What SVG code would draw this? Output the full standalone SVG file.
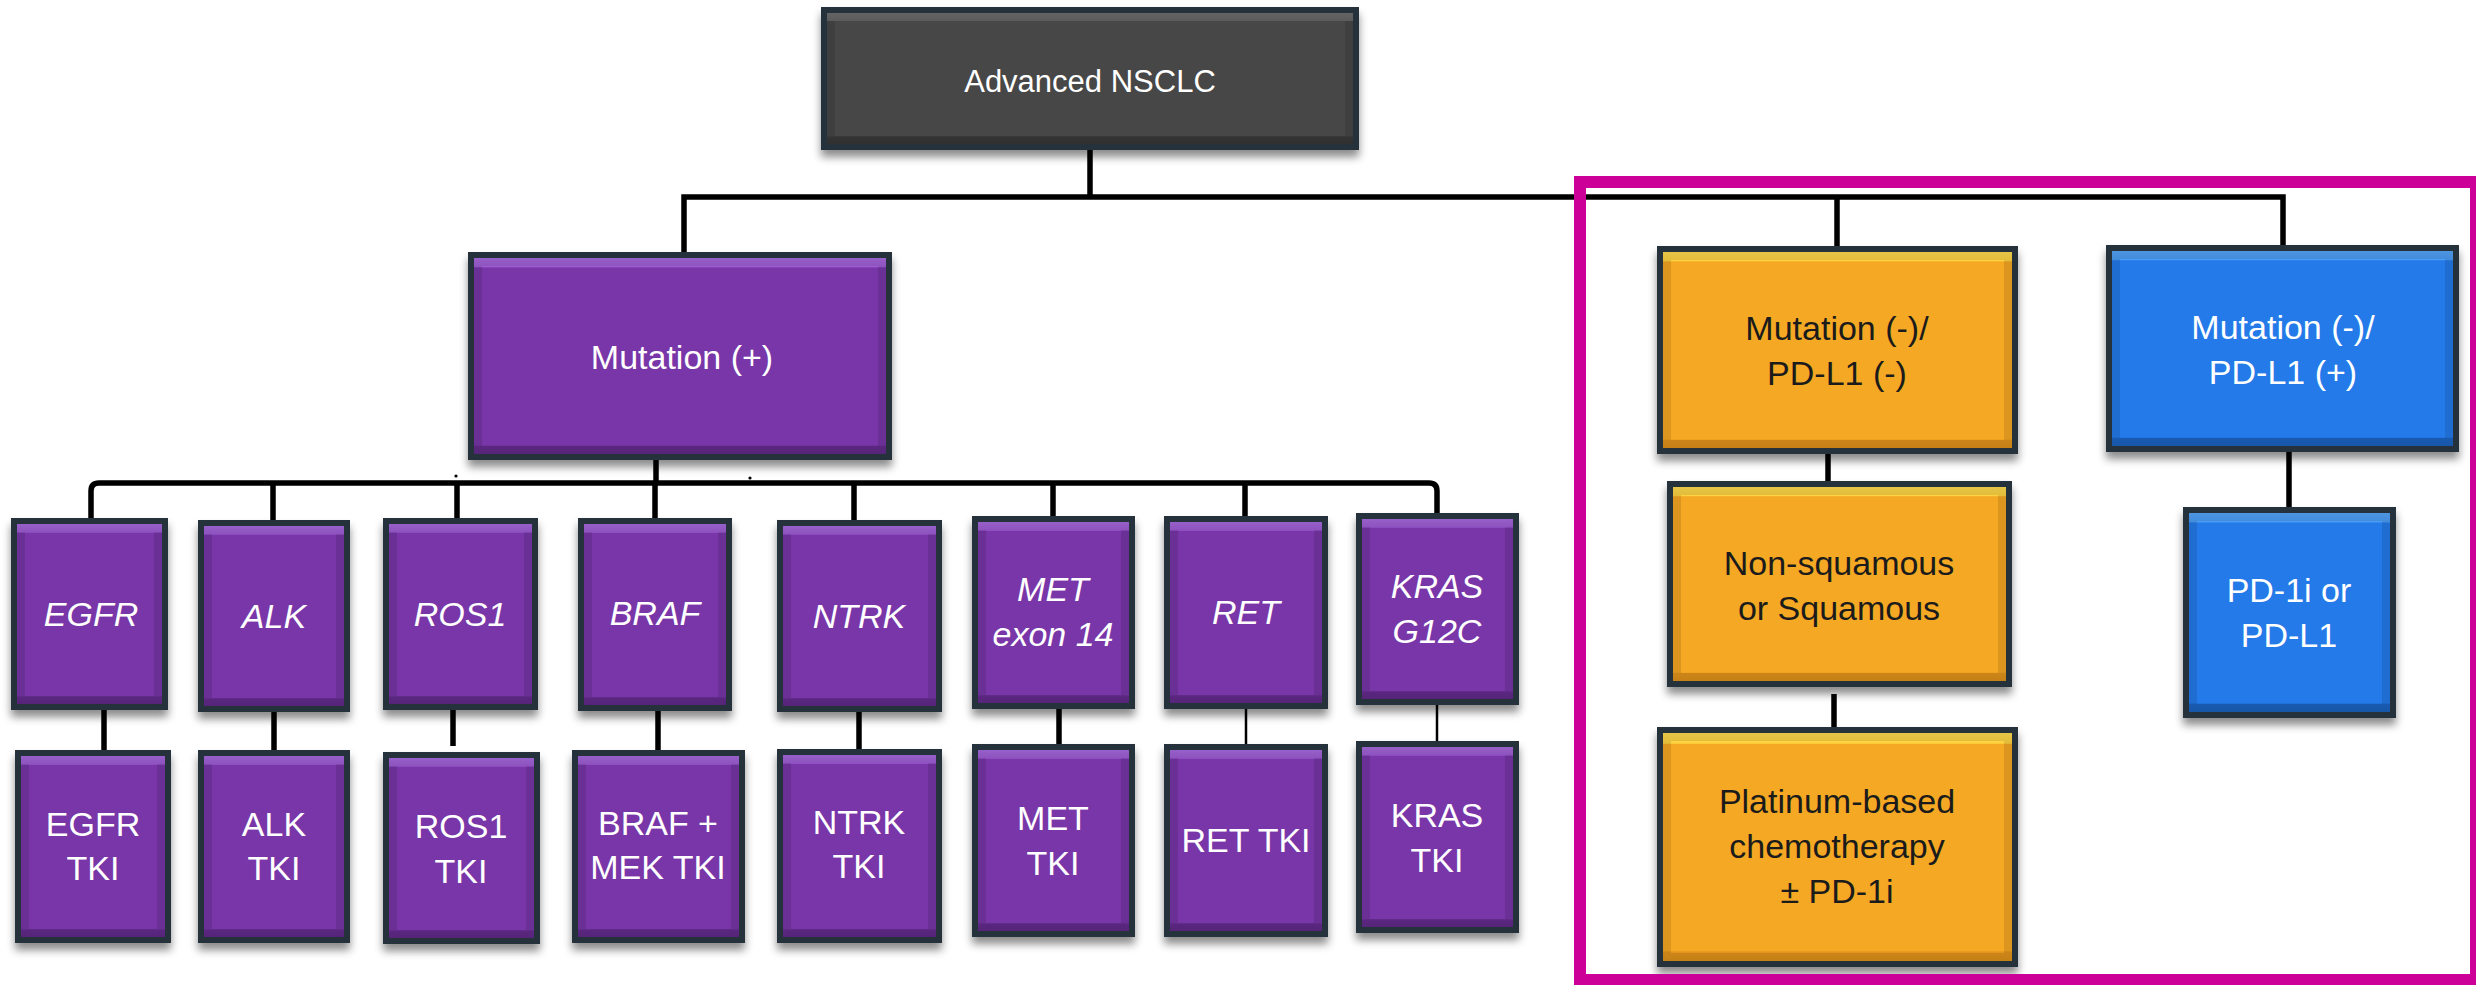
<svg xmlns="http://www.w3.org/2000/svg" width="2476" height="985" viewBox="0 0 2476 985">
  <defs>
    <filter id="shadow" x="-10%" y="-10%" width="120%" height="125%">
      <feDropShadow dx="0" dy="7" stdDeviation="4" flood-color="#000" flood-opacity="0.45"/>
    </filter>
    <!-- bevelled faces: light top band, dark bottom band -->
    <linearGradient id="g-purple" x1="0" y1="0" x2="0" y2="1">
      <stop offset="0" stop-color="#a86be0"/>
      <stop offset="0.045" stop-color="#9e5cd4"/>
      <stop offset="0.05" stop-color="#7836a8"/>
      <stop offset="0.955" stop-color="#7836a8"/>
      <stop offset="0.96" stop-color="#662c90"/>
      <stop offset="1" stop-color="#5f2986"/>
    </linearGradient>
    <linearGradient id="g-orange" x1="0" y1="0" x2="0" y2="1">
      <stop offset="0" stop-color="#ffdc50"/>
      <stop offset="0.045" stop-color="#fdd240"/>
      <stop offset="0.05" stop-color="#f5a823"/>
      <stop offset="0.955" stop-color="#f5a823"/>
      <stop offset="0.96" stop-color="#e3951c"/>
      <stop offset="1" stop-color="#dc8f19"/>
    </linearGradient>
    <linearGradient id="g-blue" x1="0" y1="0" x2="0" y2="1">
      <stop offset="0" stop-color="#56a6fa"/>
      <stop offset="0.045" stop-color="#4a9cf5"/>
      <stop offset="0.05" stop-color="#237ae8"/>
      <stop offset="0.955" stop-color="#237ae8"/>
      <stop offset="0.96" stop-color="#1c66c6"/>
      <stop offset="1" stop-color="#1a60bb"/>
    </linearGradient>
    <linearGradient id="g-grey" x1="0" y1="0" x2="0" y2="1">
      <stop offset="0" stop-color="#707070"/>
      <stop offset="0.06" stop-color="#666"/>
      <stop offset="0.065" stop-color="#474747"/>
      <stop offset="0.94" stop-color="#474747"/>
      <stop offset="0.945" stop-color="#3a3a3a"/>
      <stop offset="1" stop-color="#363636"/>
    </linearGradient>
  </defs>
  <style>
    .frame { fill: #28303b; filter: url(#shadow); }
    .rim { fill: none; stroke: #000; stroke-opacity: 0.1; stroke-width: 8; }
    .purple .face { fill: url(#g-purple); }
    .orange .face { fill: url(#g-orange); }
    .blue .face { fill: url(#g-blue); }
    .grey .face { fill: url(#g-grey); }
    text { font-family: "Liberation Sans", Arial, sans-serif; font-size: 34px; text-anchor: middle; fill: #fff; }
    .grey text { font-size: 31px; }
    .orange text { fill: #1b1b1b; }
    .it { font-style: italic; }
    .c { fill: none; stroke: #000; stroke-width: 5.5; }
    .c.thin { stroke-width: 2.5; }
    .dot { fill: #000; }
    .frame-box { fill: none; stroke: #cc0099; stroke-width: 12; }
  </style>

  <rect width="2476" height="985" fill="#fff"/>

  <!-- connectors -->
  <g id="connectors">
    <path class="c" d="M1090,150 V197"/>
    <path class="c" d="M684,252 V197 H2283 V245"/>
    <path class="c" d="M1837,197 V246"/>
    <path class="c" d="M656,460 V483"/>
    <path class="c" d="M91,518 V491 Q91,483 99,483 H1429 Q1437,483 1437,491 V513"/>
    <path class="c" d="M273,483 V520"/>
    <path class="c" d="M457,483 V518"/>
    <path class="c" d="M655,483 V518"/>
    <path class="c" d="M854,483 V520"/>
    <path class="c" d="M1053,483 V516"/>
    <path class="c" d="M1245,483 V516"/>
    <path class="c" d="M104,710 V750"/>
    <path class="c" d="M274,712 V750"/>
    <path class="c" d="M453,697 V746"/>
    <path class="c" d="M658,711 V750"/>
    <path class="c" d="M859,712 V749"/>
    <path class="c" d="M1059,709 V744"/>
    <path class="c thin" d="M1246,709 V744"/>
    <path class="c thin" d="M1437,705 V741"/>
    <path class="c" d="M1828,454 V481"/>
    <path class="c" d="M1834,694 V727"/>
    <path class="c" d="M2289,452 V507"/>
    <circle class="dot" cx="456" cy="476" r="1.6"/>
    <circle class="dot" cx="750" cy="478" r="1.6"/>
  </g>

  <!-- root -->
  <g id="node-advanced-nsclc" class="grey">
    <rect class="frame" x="821" y="7" width="538" height="143"/>
    <rect class="face" x="827" y="13" width="526" height="131"/>
    <rect class="rim" x="831" y="17" width="518" height="123"/>
    <text x="1090" y="92">Advanced NSCLC</text>
  </g>

  <g id="node-mutation-pos" class="purple">
    <rect class="frame" x="468" y="252" width="424" height="208"/>
    <rect class="face" x="474" y="258" width="412" height="196"/>
    <rect class="rim" x="478" y="262" width="404" height="188"/>
    <text x="682" y="369">Mutation (+)</text>
  </g>

  <!-- driver genes -->
  <g id="node-egfr" class="purple">
    <rect class="frame" x="11" y="518" width="157" height="192"/>
    <rect class="face" x="17" y="524" width="145" height="180"/>
    <rect class="rim" x="21" y="528" width="137" height="172"/>
    <text class="it" x="91" y="626">EGFR</text>
  </g>
  <g id="node-alk" class="purple">
    <rect class="frame" x="198" y="520" width="152" height="192"/>
    <rect class="face" x="204" y="526" width="140" height="180"/>
    <rect class="rim" x="208" y="530" width="132" height="172"/>
    <text class="it" x="274" y="628">ALK</text>
  </g>
  <g id="node-ros1" class="purple">
    <rect class="frame" x="383" y="518" width="155" height="192"/>
    <rect class="face" x="389" y="524" width="143" height="180"/>
    <rect class="rim" x="393" y="528" width="135" height="172"/>
    <text class="it" x="460" y="626">ROS1</text>
  </g>
  <g id="node-braf" class="purple">
    <rect class="frame" x="578" y="518" width="154" height="193"/>
    <rect class="face" x="584" y="524" width="142" height="181"/>
    <rect class="rim" x="588" y="528" width="134" height="173"/>
    <text class="it" x="655" y="625">BRAF</text>
  </g>
  <g id="node-ntrk" class="purple">
    <rect class="frame" x="777" y="520" width="165" height="192"/>
    <rect class="face" x="783" y="526" width="153" height="180"/>
    <rect class="rim" x="787" y="530" width="145" height="172"/>
    <text class="it" x="859" y="628">NTRK</text>
  </g>
  <g id="node-met" class="purple">
    <rect class="frame" x="972" y="516" width="163" height="193"/>
    <rect class="face" x="978" y="522" width="151" height="181"/>
    <rect class="rim" x="982" y="526" width="143" height="173"/>
    <text class="it" x="1053"><tspan x="1053" y="601">MET</tspan><tspan x="1053" y="646">exon 14</tspan></text>
  </g>
  <g id="node-ret" class="purple">
    <rect class="frame" x="1164" y="516" width="164" height="193"/>
    <rect class="face" x="1170" y="522" width="152" height="181"/>
    <rect class="rim" x="1174" y="526" width="144" height="173"/>
    <text class="it" x="1246" y="624">RET</text>
  </g>
  <g id="node-kras" class="purple">
    <rect class="frame" x="1356" y="513" width="163" height="192"/>
    <rect class="face" x="1362" y="519" width="151" height="180"/>
    <rect class="rim" x="1366" y="523" width="143" height="172"/>
    <text class="it" x="1437"><tspan x="1437" y="598">KRAS</tspan><tspan x="1437" y="643">G12C</tspan></text>
  </g>

  <!-- targeted therapies -->
  <g id="node-egfr-tki" class="purple">
    <rect class="frame" x="15" y="750" width="156" height="193"/>
    <rect class="face" x="21" y="756" width="144" height="181"/>
    <rect class="rim" x="25" y="760" width="136" height="173"/>
    <text x="93"><tspan x="93" y="836">EGFR</tspan><tspan x="93" y="880">TKI</tspan></text>
  </g>
  <g id="node-alk-tki" class="purple">
    <rect class="frame" x="198" y="750" width="152" height="193"/>
    <rect class="face" x="204" y="756" width="140" height="181"/>
    <rect class="rim" x="208" y="760" width="132" height="173"/>
    <text x="274"><tspan x="274" y="836">ALK</tspan><tspan x="274" y="880">TKI</tspan></text>
  </g>
  <g id="node-ros1-tki" class="purple">
    <rect class="frame" x="383" y="752" width="157" height="192"/>
    <rect class="face" x="389" y="758" width="145" height="180"/>
    <rect class="rim" x="393" y="762" width="137" height="172"/>
    <text x="461"><tspan x="461" y="838">ROS1</tspan><tspan x="461" y="883">TKI</tspan></text>
  </g>
  <g id="node-braf-mek-tki" class="purple">
    <rect class="frame" x="572" y="750" width="173" height="193"/>
    <rect class="face" x="578" y="756" width="161" height="181"/>
    <rect class="rim" x="582" y="760" width="153" height="173"/>
    <text x="658"><tspan x="658" y="835">BRAF +</tspan><tspan x="658" y="879">MEK TKI</tspan></text>
  </g>
  <g id="node-ntrk-tki" class="purple">
    <rect class="frame" x="777" y="749" width="165" height="194"/>
    <rect class="face" x="783" y="755" width="153" height="182"/>
    <rect class="rim" x="787" y="759" width="145" height="174"/>
    <text x="859"><tspan x="859" y="834">NTRK</tspan><tspan x="859" y="878">TKI</tspan></text>
  </g>
  <g id="node-met-tki" class="purple">
    <rect class="frame" x="972" y="744" width="163" height="193"/>
    <rect class="face" x="978" y="750" width="151" height="181"/>
    <rect class="rim" x="982" y="754" width="143" height="173"/>
    <text x="1053"><tspan x="1053" y="830">MET</tspan><tspan x="1053" y="875">TKI</tspan></text>
  </g>
  <g id="node-ret-tki" class="purple">
    <rect class="frame" x="1164" y="744" width="164" height="193"/>
    <rect class="face" x="1170" y="750" width="152" height="181"/>
    <rect class="rim" x="1174" y="754" width="144" height="173"/>
    <text x="1246" y="852">RET TKI</text>
  </g>
  <g id="node-kras-tki" class="purple">
    <rect class="frame" x="1356" y="741" width="163" height="192"/>
    <rect class="face" x="1362" y="747" width="151" height="180"/>
    <rect class="rim" x="1366" y="751" width="143" height="172"/>
    <text x="1437"><tspan x="1437" y="827">KRAS</tspan><tspan x="1437" y="872">TKI</tspan></text>
  </g>

  <!-- no driver mutation -->
  <g id="node-pdl1-neg" class="orange">
    <rect class="frame" x="1657" y="246" width="361" height="208"/>
    <rect class="face" x="1663" y="252" width="349" height="196"/>
    <rect class="rim" x="1667" y="256" width="341" height="188"/>
    <text x="1837"><tspan x="1837" y="340">Mutation (-)/</tspan><tspan x="1837" y="385">PD-L1 (-)</tspan></text>
  </g>
  <g id="node-histology" class="orange">
    <rect class="frame" x="1667" y="481" width="345" height="206"/>
    <rect class="face" x="1673" y="487" width="333" height="194"/>
    <rect class="rim" x="1677" y="491" width="325" height="186"/>
    <text x="1839"><tspan x="1839" y="575">Non-squamous</tspan><tspan x="1839" y="620">or Squamous</tspan></text>
  </g>
  <g id="node-chemo" class="orange">
    <rect class="frame" x="1657" y="727" width="361" height="240"/>
    <rect class="face" x="1663" y="733" width="349" height="228"/>
    <rect class="rim" x="1667" y="737" width="341" height="220"/>
    <text x="1837"><tspan x="1837" y="813">Platinum-based</tspan><tspan x="1837" y="858">chemotherapy</tspan><tspan x="1837" y="903">± PD-1i</tspan></text>
  </g>
  <g id="node-pdl1-pos" class="blue">
    <rect class="frame" x="2106" y="245" width="353" height="207"/>
    <rect class="face" x="2112" y="251" width="341" height="195"/>
    <rect class="rim" x="2116" y="255" width="333" height="187"/>
    <text x="2283"><tspan x="2283" y="339">Mutation (-)/</tspan><tspan x="2283" y="384">PD-L1 (+)</tspan></text>
  </g>
  <g id="node-pd1i" class="blue">
    <rect class="frame" x="2183" y="507" width="213" height="211"/>
    <rect class="face" x="2189" y="513" width="201" height="199"/>
    <rect class="rim" x="2193" y="517" width="193" height="191"/>
    <text x="2289"><tspan x="2289" y="602">PD-1i or</tspan><tspan x="2289" y="647">PD-L1</tspan></text>
  </g>

  <!-- highlight around the mutation-negative branch -->
  <rect id="highlight" class="frame-box" x="1580" y="182" width="896" height="798"/>
</svg>
